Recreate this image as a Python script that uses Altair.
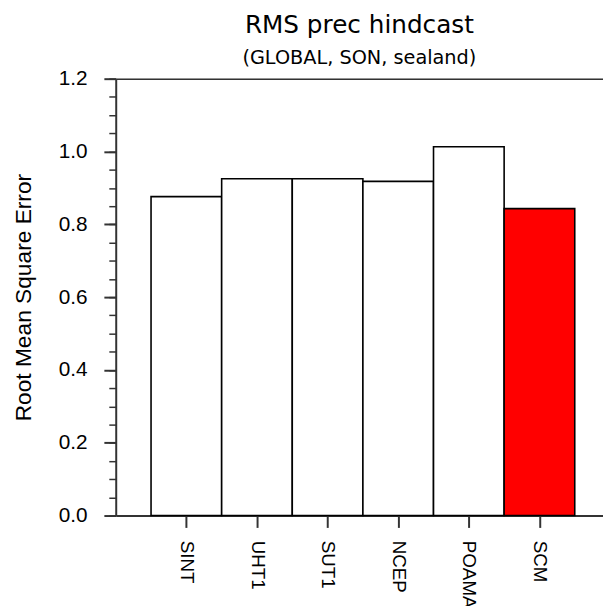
import altair as alt
import pandas as pd

models = ["SINT", "UHT1", "SUT1", "NCEP", "POAMA", "SCM"]
rmse = [0.876, 0.925, 0.925, 0.918, 1.013, 0.843]
fills = ["#ffffff", "#ffffff", "#ffffff", "#ffffff", "#ffffff", "#ff0000"]
positions = [1, 2, 3, 4, 5, 6]
y_major = [0.0, 0.2, 0.4, 0.6, 0.8, 1.0, 1.2]
y_minor = [round(i * 0.05, 2) for i in range(25)]

df = pd.DataFrame({"model": models, "val": rmse, "fill": fills, "pos": positions})
df["x0"] = df["pos"] - 0.5
df["x1"] = df["pos"] + 0.5
df["base"] = 0.0

label_map = "{" + ",".join(f"'{p}':'{m}'" for p, m in zip(positions, models)) + "}"
FONT = "Liberation Sans"
TFONT = "DejaVu Sans"

xscale = alt.Scale(domain=[0, 6.9], nice=False, zero=False)
yscale = alt.Scale(domain=[0, 1.2], nice=False)

bars = alt.Chart(df).mark_bar(stroke="black", strokeWidth=1.6).encode(
    x=alt.X("x0:Q", scale=xscale, axis=alt.Axis(
        orient="bottom", values=positions, labelExpr=f"{label_map}[datum.value]",
        labelAngle=90, labelAlign="left", labelBaseline="middle",
        labelFontSize=19, labelFont=FONT, labelColor="black", labelPadding=13,
        tickSize=12, tickWidth=2, tickColor="#333333",
        domainColor="#333333", domainWidth=2, grid=False, title=None)),
    x2="x1:Q",
    y=alt.Y("val:Q", scale=yscale, axis=alt.Axis(
        orient="left", values=y_major, format=".1f",
        labelFontSize=21, labelFont=FONT, labelColor="black", labelPadding=17,
        tickSize=12, tickWidth=2, tickColor="#333333",
        domainColor="#333333", domainWidth=2, grid=False,
        title="Root Mean Square Error", titleFont=FONT, titleFontSize=23,
        titleFontWeight="normal", titleColor="black", titleAngle=-90,
        titleAlign="center", titleBaseline="middle", titleX=-93, titleY=221)),
    y2="base:Q",
    fill=alt.Fill("fill:N", scale=None),
)

frame = alt.Chart(df).mark_point(opacity=0).encode(
    x=alt.X("pos:Q", scale=xscale, axis=alt.Axis(
        orient="top", labels=False, ticks=False, domain=True,
        domainColor="#333333", domainWidth=1.6, grid=False, title=None)),
    y=alt.Y("val:Q", scale=yscale, axis=alt.Axis(
        orient="left", values=y_minor, labels=False, domain=False,
        tickSize=7, tickWidth=1.5, tickColor="#333333", grid=False, title=None)),
)

chart = alt.layer(bars, frame).resolve_axis(x="independent", y="independent").properties(
    width=493, height=442,
    padding={"left": 109, "top": 68, "right": 0, "bottom": 88},
    autosize=alt.AutoSizeParams(type="none"),
    title=alt.TitleParams(
        text="RMS prec hindcast", subtitle="(GLOBAL, SON, sealand)",
        font=TFONT, fontSize=25, fontWeight="normal", color="black",
        subtitleFont=TFONT, subtitleFontSize=19.5, subtitleColor="black",
        subtitlePadding=12, anchor="middle", offset=0),
).configure_view(stroke=None).configure(background="white")

chart.save("out.html", embed_options={"renderer": "svg", "actions": False})
